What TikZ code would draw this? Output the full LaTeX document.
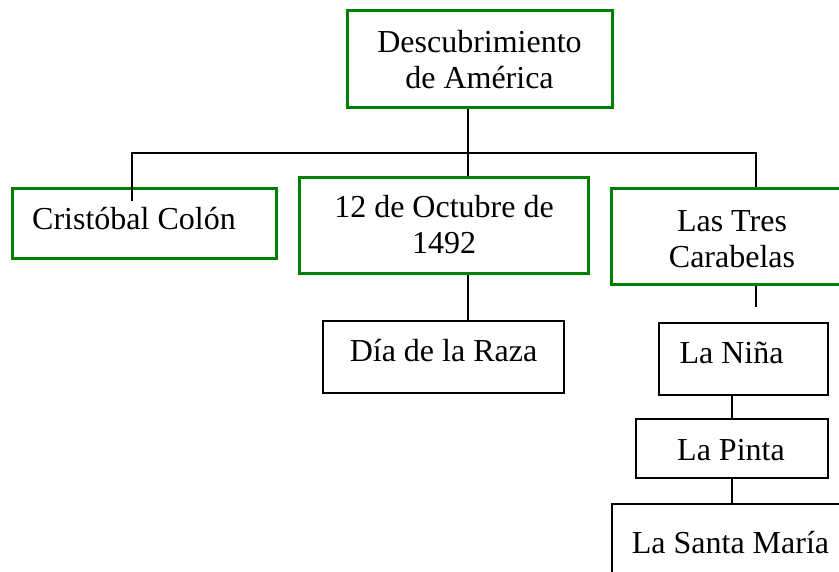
\documentclass[tikz,border=0pt]{standalone}
\usepackage{fontspec}
\setmainfont{Liberation Serif}
\definecolor{boxgreen}{RGB}{0,128,0}
\begin{document}
\begin{tikzpicture}[x=1pt,y=-1pt,
  gbox/.style={draw=boxgreen,line width=3pt,inner sep=0pt},
  kbox/.style={draw=black,line width=1.6pt,inner sep=0pt},
  txt/.style={inner sep=0pt,font=\fontsize{32}{36}\selectfont,align=center},
  conn/.style={draw=black,line width=1.6pt}]
\useasboundingbox (0,0) rectangle (839,571);
\clip (0,0) rectangle (839,571);
% boxes
\node[gbox,minimum width=265pt,minimum height=97pt] (a) at (479.5,58.5) {};
\node[gbox,minimum width=264pt,minimum height=70pt] (b) at (144,223) {};
\node[gbox,minimum width=289pt,minimum height=96pt] (c) at (443.5,225) {};
\node[gbox,minimum width=244pt,minimum height=96pt] (d) at (733,236) {};
\node[kbox,minimum width=241pt,minimum height=72pt] (e) at (443.5,357) {};
\node[kbox,minimum width=169pt,minimum height=72pt] (f) at (743.5,359) {};
\node[kbox,minimum width=192pt,minimum height=59pt] (g) at (732,448.5) {};
\node[kbox,minimum width=240pt,minimum height=80pt] (h) at (732,544) {};
% texts
\node[txt,anchor=base] (at1) at (479.5,52) {Descubrimiento};
\node[txt,anchor=base] (at2) at (479.5,88) {de América};
\node[txt,anchor=base west] (bt) at (32,229) {Cristóbal Colón};
\node[txt,anchor=base] (ct1) at (444,217) {12 de Octubre de};
\node[txt,anchor=base] (ct2) at (444,253) {1492};
\node[txt,anchor=base] (dt1) at (732,231) {Las Tres};
\node[txt,anchor=base] (dt2) at (732,267) {Carabelas};
\node[txt,anchor=base] (et) at (443.5,361) {Día de la Raza};
\node[txt,anchor=base] (ft) at (731.5,363) {La Niña};
\node[txt,anchor=base] (gt) at (731,460) {La Pinta};
\node[txt,anchor=base] (ht) at (730.5,553) {La Santa María};
% connector coordinates
\coordinate (xc) at (468,153);
\coordinate (xl) at (132,153);
\coordinate (xr) at (756,153);
\coordinate (bend) at (132,201);
\coordinate (dend) at (756,307);
\coordinate (xs) at (732,0);
\coordinate (xd) at (756,0);
% connectors
\draw[conn] (a.south -| xc) -- (c.north -| xc);
\draw[conn] (bend) -- (xl) -- (xr) -- (d.north -| xr);
\draw[conn] (c.south -| xc) -- (e.north -| xc);
\draw[conn] (d.south -| xd) -- (dend);
\draw[conn] (f.south -| xs) -- (g.north -| xs);
\draw[conn] (g.south -| xs) -- (h.north -| xs);
\end{tikzpicture}
\end{document}
